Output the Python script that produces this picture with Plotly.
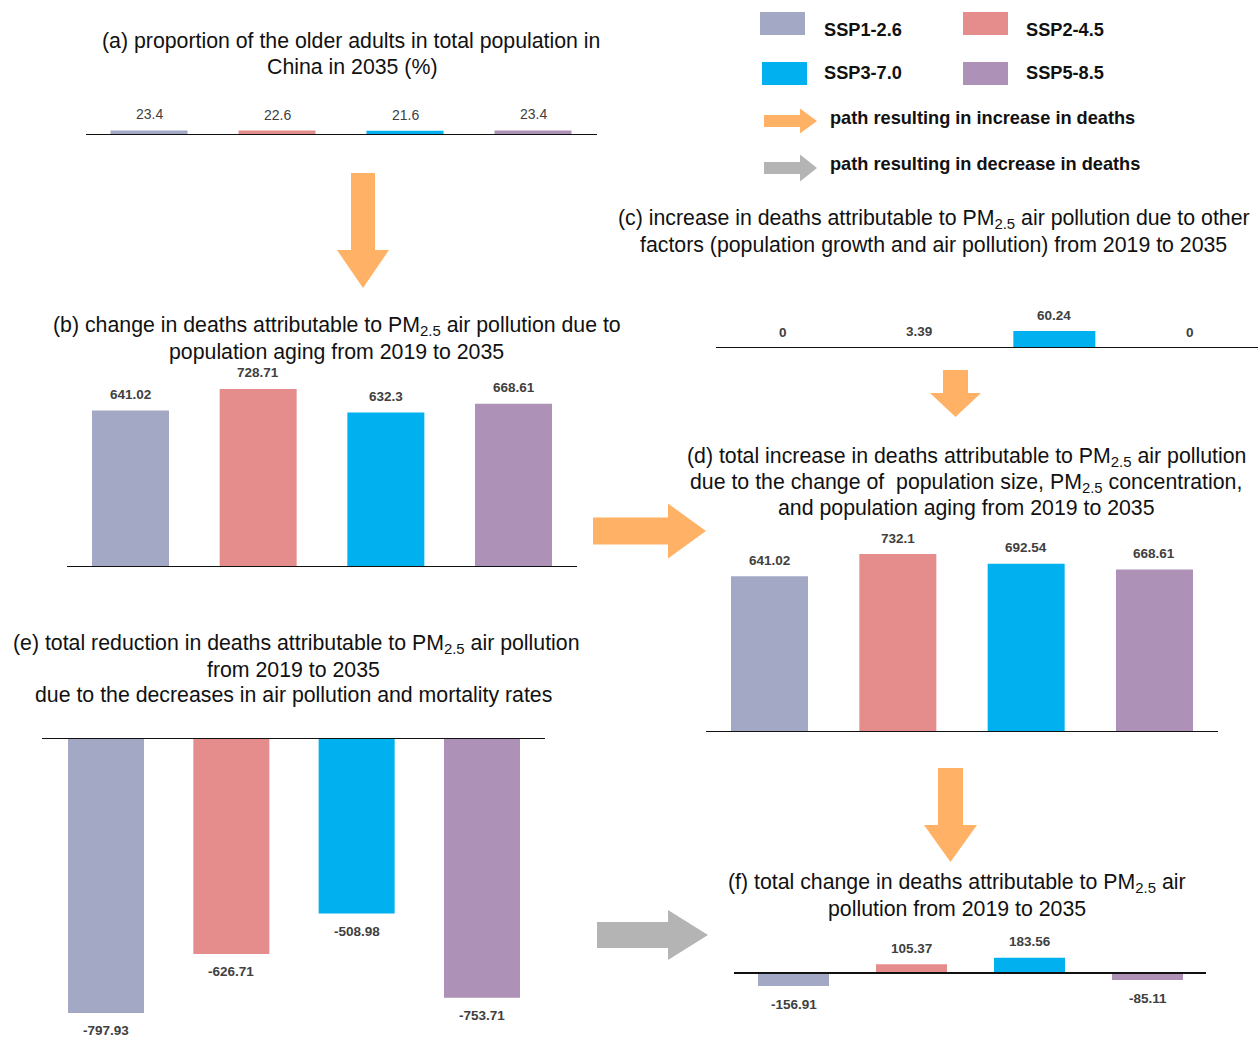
import plotly.graph_objects as go

W, H = 1258, 1039
FONT = "Liberation Sans, Arial, sans-serif"

# ---- data -------------------------------------------------------------
scenarios = ["SSP1-2.6", "SSP2-4.5", "SSP3-7.0", "SSP5-8.5"]
colors = ["#A3A8C5", "#E58D8C", "#00B0EF", "#AD91B6"]

older_share_2035 = [23.4, 22.6, 21.6, 23.4]                # (a) %
aging_deaths = [641.02, 728.71, 632.3, 668.61]             # (b)
other_factor_deaths = [0, 3.39, 60.24, 0]                  # (c)
total_increase = [641.02, 732.1, 692.54, 668.61]           # (d)
total_reduction = [-797.93, -626.71, -508.98, -753.71]     # (e)
total_change = [-156.91, 105.37, 183.56, -85.11]           # (f)

PM = "PM<sub>2.5</sub>"
title_lines = {
    "a": ["(a) proportion of the older adults in total population in",
          "China in 2035 (%)"],
    "b": [f"(b) change in deaths attributable to {PM} air pollution due to",
          "population aging from 2019 to 2035"],
    "c": [f"(c) increase in deaths attributable to {PM} air pollution due to other",
          "factors (population growth and air pollution) from 2019 to 2035"],
    "d": [f"(d) total increase in deaths attributable to {PM} air pollution",
          f"due to the change of  population size, {PM} concentration,",
          "and population aging from 2019 to 2035"],
    "e": [f"(e) total reduction in deaths attributable to {PM} air pollution",
          "from 2019 to 2035",
          "due to the decreases in air pollution and mortality rates"],
    "f": [f"(f) total change in deaths attributable to {PM} air",
          "pollution from 2019 to 2035"],
}

# ---- panel geometry (pixels) -----------------------------------------
# left/right: baseline extent, c0: first bar centre, sp: bar spacing,
# bw: bar width, top/bot: plot area, zero: baseline y, scale: px per unit,
# title: (x centre, y centre) of each title line
panels = [
    dict(key="a", vals=older_share_2035, left=86, right=597, c0=149, sp=128, bw=77,
         top=95, bot=135, zero=135, scale=4.6 / 23.4, bold=False, size=14,
         title=[(351, 41), (351.5, 67)]),
    dict(key="b", vals=aging_deaths, left=67, right=577, c0=130.5, sp=127.67, bw=77,
         top=360, bot=567, zero=567, scale=0.2443, bold=True, size=13.5,
         title=[(336.5, 326), (336.5, 352)]),
    dict(key="c", vals=other_factor_deaths, left=716, right=1258, c0=783, sp=135.67, bw=82,
         top=300, bot=348, zero=348, scale=0.282, bold=True, size=13.5,
         title=[(933.5, 219), (933.5, 245)]),
    dict(key="d", vals=total_increase, left=706, right=1218, c0=769.5, sp=128.33, bw=77,
         top=530, bot=732, zero=732, scale=0.2431, bold=True, size=13.5,
         title=[(966.5, 457), (966, 483), (966.5, 508)]),
    dict(key="e", vals=total_reduction, left=42, right=545, c0=106, sp=125.33, bw=76,
         top=738, bot=1039, zero=738, scale=0.3446, bold=True, size=13.5,
         title=[(296, 644), (293.5, 670), (293, 695)]),
    dict(key="f", vals=total_change, left=734, right=1206, c0=793.5, sp=118, bw=71,
         top=940, bot=1010, zero=973, scale=0.083, bold=True, size=13.5,
         title=[(956.5, 883), (956.5, 909)]),
]


def px_x(x):
    return x / W


def px_y(y):
    return 1 - y / H


fig = go.Figure()
layout = dict(
    width=W, height=H, margin=dict(l=0, r=0, t=0, b=0),
    paper_bgcolor="white", plot_bgcolor="rgba(0,0,0,0)",
    showlegend=False, font=dict(family=FONT),
)
annotations = []
shapes = []

for i, p in enumerate(panels, start=1):
    n = "" if i == 1 else str(i)
    xa, ya = f"x{n}", f"y{n}"
    fig.add_trace(go.Bar(
        x=scenarios, y=p["vals"], marker=dict(color=colors, line=dict(width=0)),
        width=p["bw"] / p["sp"], xaxis=xa, yaxis=ya, hoverinfo="x+y",
    ))
    xr = [(p["left"] - p["c0"]) / p["sp"], (p["right"] - p["c0"]) / p["sp"]]
    yr = [-(p["bot"] - p["zero"]) / p["scale"], (p["zero"] - p["top"]) / p["scale"]]
    layout[f"xaxis{n}"] = dict(domain=[px_x(p["left"]), px_x(p["right"])], range=xr,
                               anchor=ya, visible=False, fixedrange=True)
    layout[f"yaxis{n}"] = dict(domain=[px_y(p["bot"]), px_y(p["top"])], range=yr,
                               anchor=xa, visible=False, fixedrange=True)
    # baseline at zero
    shapes.append(dict(type="line", xref=f"{xa} domain", yref=ya, x0=0, x1=1, y0=0, y1=0,
                       line=dict(color="#111111", width=2), layer="above"))
    # value labels
    for s, v in zip(scenarios, p["vals"]):
        txt = f"{v:g}"
        if p["bold"]:
            txt = f"<b>{txt}</b>"
        annotations.append(dict(
            xref=xa, yref=ya, x=s, y=v, text=txt, showarrow=False,
            yanchor="middle", yshift=16 if v >= 0 else -18,
            font=dict(size=p["size"], color="#404040", family=FONT),
        ))
    # panel title, one annotation per line
    for (tx, ty), line in zip(p["title"], title_lines[p["key"]]):
        annotations.append(dict(
            xref="paper", yref="paper", x=px_x(tx), y=px_y(ty), text=line,
            showarrow=False, xanchor="center", yanchor="middle",
            font=dict(size=21.3, color="#111111", family=FONT),
        ))


def arrow(tail, tip, shaft, head_w, head_len, color):
    (x0, y0), (x1, y1) = tail, tip
    L = ((x1 - x0) ** 2 + (y1 - y0) ** 2) ** 0.5
    ux, uy = (x1 - x0) / L, (y1 - y0) / L
    nx, ny = -uy, ux
    bx, by = x1 - ux * head_len, y1 - uy * head_len
    pts = [
        (x0 + nx * shaft / 2, y0 + ny * shaft / 2),
        (bx + nx * shaft / 2, by + ny * shaft / 2),
        (bx + nx * head_w / 2, by + ny * head_w / 2),
        (x1, y1),
        (bx - nx * head_w / 2, by - ny * head_w / 2),
        (bx - nx * shaft / 2, by - ny * shaft / 2),
        (x0 - nx * shaft / 2, y0 - ny * shaft / 2),
    ]
    path = "M " + " L ".join(f"{px_x(x):.5f},{px_y(y):.5f}" for x, y in pts) + " Z"
    return dict(type="path", xref="paper", yref="paper", path=path,
                fillcolor=color, line=dict(width=0), layer="below")


ORANGE, GREY = "#FFB266", "#B4B4B4"
shapes += [
    arrow((363, 173), (363, 288), 24, 52, 38, ORANGE),      # (a) -> (b)
    arrow((593, 531), (706, 531), 27, 55, 38, ORANGE),      # (b) -> (d)
    arrow((955.5, 370), (955.5, 417), 25, 51, 24, ORANGE),  # (c) -> (d)
    arrow((950.5, 768), (950.5, 862), 25, 53, 37, ORANGE),  # (d) -> (f)
    arrow((597, 935), (708, 935), 26, 50, 40, GREY),        # (e) -> (f)
    arrow((764, 121), (817, 121), 12, 25, 17, ORANGE),      # key arrows
    arrow((764, 168), (817, 168), 12, 27, 17, GREY),
]

# scenario key
key_boxes = [(760, 12), (963, 12), (762, 62), (963, 62)]
key_text = [(822, 30), (1024, 30), (822, 73), (1024, 73)]
for (bx, by), (tx, ty), name, col in zip(key_boxes, key_text, scenarios, colors):
    shapes.append(dict(type="rect", xref="paper", yref="paper",
                       x0=px_x(bx), x1=px_x(bx + 45), y0=px_y(by + 23), y1=px_y(by),
                       fillcolor=col, line=dict(width=0)))
    annotations.append(dict(xref="paper", yref="paper", x=px_x(tx), y=px_y(ty),
                            text=f"<b>{name}</b>", showarrow=False, xanchor="left",
                            yanchor="middle", font=dict(size=18.2, color="#111111", family=FONT)))

for ty, label in [(118, "path resulting in increase in deaths"),
                  (164, "path resulting in decrease in deaths")]:
    annotations.append(dict(xref="paper", yref="paper", x=px_x(828), y=px_y(ty),
                            text=f"<b>{label}</b>", showarrow=False, xanchor="left",
                            yanchor="middle", font=dict(size=18.2, color="#111111", family=FONT)))

layout["annotations"] = annotations
layout["shapes"] = shapes
fig.update_layout(**layout)
fig.write_html("out.html")
